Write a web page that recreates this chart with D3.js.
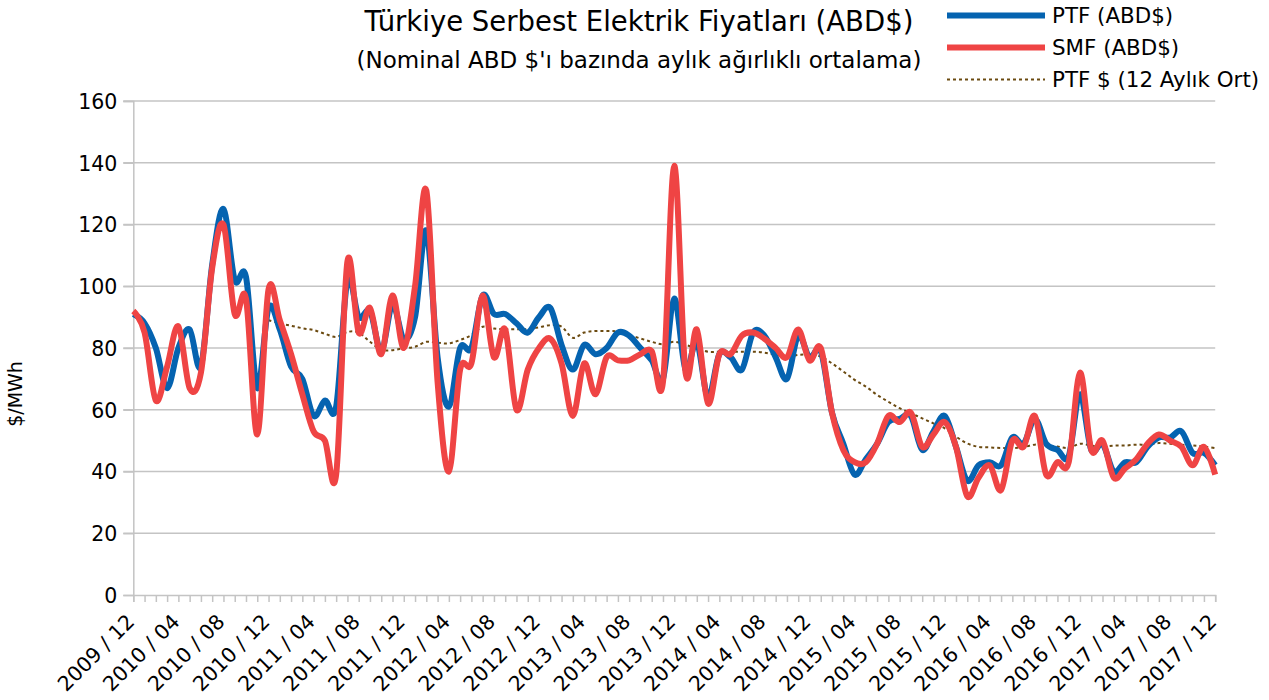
<!DOCTYPE html>
<meta charset="utf-8">
<style>
  body { margin: 0; background: white; }
  svg { font-family: "DejaVu Sans", sans-serif; }
  .grid line { stroke: #c4c4c4; stroke-width: 1.5; }
  .axis path, .axis line { stroke: #c4c4c4; stroke-width: 1.5; }
  .axis text { fill: black; font-size: 20.5px; font-family: "DejaVu Sans", sans-serif; }
</style>
<body>
</body>
<script src="https://cdn.jsdelivr.net/npm/d3@7"></script>
<script>
  // monthly values, 2009/12 .. 2017/12
  const ptf = [91, 88, 80, 67, 80, 86, 74, 107, 125, 102, 103, 67,
    93, 86, 74, 70, 58, 63, 61, 102, 90, 92, 79, 94,
    83, 90, 118, 77, 61, 80, 80, 97, 91, 91, 88, 85,
    90, 93, 81, 73, 81, 78, 80, 85, 84, 80, 76, 70,
    96, 73, 82, 64, 78, 77, 73, 85, 84, 77, 70, 84,
    77, 79, 59, 49, 39, 44, 49, 56, 57, 58, 47, 53,
    58, 48, 37, 42, 43, 42, 51, 49, 57, 49, 47, 45,
    65, 47, 49, 40, 43, 43, 48, 51, 51, 53, 46, 46, 42];
  const smf = [92, 85, 63, 74, 87, 67, 72, 106, 120, 91, 96, 52,
    99, 89, 78, 65, 53, 50, 39, 108, 85, 93, 78, 97,
    80, 100, 131, 69, 40, 73, 75, 97, 77, 86, 60, 73,
    80, 83, 75, 58, 75, 65, 77, 76, 76, 78, 79, 69,
    139, 72, 86, 62, 78, 78, 84, 85, 83, 80, 77, 86,
    76, 80, 59, 47, 43, 43, 49, 58, 56, 59, 48, 52,
    56, 48, 32, 38, 42, 34, 50, 48, 58, 39, 43, 43,
    72, 47, 50, 38, 41, 44, 49, 52, 50, 48, 42, 48, 39];
  // 12 month average of PTF, starts at 2010/12
  const ptfAvg = [null, null, null, null, null, null, null, null, null, null, null, null,
    89, 88, 87.2, 86.4, 85.8, 84.6, 83.6, 85.2, 85, 82, 79.5, 79.3,
    79.9, 80.4, 82, 81.7, 81.5, 82.6, 84.2, 86.9, 86.3, 86.1, 86.1, 86.1,
    86.7, 87.4, 86.9, 83.3, 85, 85.5, 85.5, 85.3, 84.2, 83.1, 82, 81.2,
    82, 81, 79.9, 78.8, 78.8, 78.8, 78.8, 78.8, 78.5, 77.8, 77.2, 77.8,
    77.8, 77.2, 75, 72.4, 69.7, 67.5, 64.8, 62.6, 60.5, 58.9, 57.2, 55.6,
    54, 51.3, 49.1, 48, 47.8, 47.6, 47.6, 47.9, 48.7, 48.4, 48.1, 47.6,
    49, 48.4, 48.1, 48.4, 48.4, 48.7, 48.7, 49.2, 49, 48.7, 48.4, 48.1, 47.6];
  const yTicks = [0, 20, 40, 60, 80, 100, 120, 140, 160];

  const months = [];
  for (let i = 0; i < ptf.length; i++) {
    const m = (11 + i) % 12 + 1, yr = 2009 + Math.floor((11 + i) / 12);
    months.push(`${yr} / ${String(m).padStart(2, '0')}`);
  }
  const tickLabels = months.filter((d, i) => i % 4 === 0);

  const series = [
    {name: 'PTF (ABD$)', values: ptf, color: '#0563b0', width: 6, dash: null},
    {name: 'SMF (ABD$)', values: smf, color: '#ef4444', width: 6, dash: null},
    {name: 'PTF $ (12 Aylık Ort)', values: ptfAvg, color: '#6b4a10', width: 2, dash: '3,3'},
  ];

  const W = 1269, H = 700;
  const l = 133.3, r = 1215.2, t = 101, b = 595;

  const svg = d3.select('body').append('svg')
    .attr('width', W).attr('height', H);

  const x = d3.scalePoint().domain(months).range([l, r]);
  const y = d3.scaleLinear().domain([0, 160]).range([b, t]);

  // grid
  svg.append('g').attr('class', 'grid')
    .selectAll('line').data(yTicks.slice(1)).join('line')
      .attr('x1', l - 10).attr('x2', r)
      .attr('y1', d => y(d)).attr('y2', d => y(d));

  svg.append('g').attr('class', 'axis')
    .attr('transform', `translate(${l}, 0)`)
    .call(d3.axisLeft(y).tickValues(yTicks).tickSize(10).tickPadding(6))
    .call(g => g.selectAll('text').attr('dy', '0.36em'));

  // monthly minor ticks
  svg.append('g').attr('class', 'axis')
    .attr('transform', `translate(0, ${b})`)
    .call(d3.axisBottom(x).tickSize(7).tickFormat(''));

  svg.append('g').attr('class', 'axis')
    .attr('transform', `translate(0, ${b})`)
    .call(d3.axisBottom(x).tickValues(tickLabels).tickSize(0))
    .call(g => g.select('.domain').remove())
    .call(g => g.selectAll('text')
      .attr('text-anchor', 'end')
      .attr('dy', null)
      .attr('y', 0)
      .attr('transform', 'translate(2, 28) rotate(-45)'));

  const line = vals => d3.line()
    .defined(d => d != null)
    .x((d, i) => x(months[i]))
    .y(d => y(d))
    .curve(d3.curveCardinal.tension(0))(vals);

  svg.append('g').selectAll('path').data([series[2], series[0], series[1]]).join('path')
    .attr('d', s => line(s.values))
    .attr('fill', 'none')
    .attr('stroke', s => s.color)
    .attr('stroke-width', s => s.width)
    .attr('stroke-dasharray', s => s.dash)
    .attr('stroke-linejoin', 'round');

  // titles
  svg.append('text').attr('x', 639).attr('y', 31)
    .attr('text-anchor', 'middle').style('font-size', '27.5px')
    .text('Türkiye Serbest Elektrik Fiyatları (ABD$)');
  svg.append('text').attr('x', 639).attr('y', 68)
    .attr('text-anchor', 'middle').style('font-size', '23px')
    .text("(Nominal ABD $'ı bazında aylık ağırlıklı ortalama)");

  svg.append('text')
    .attr('transform', 'translate(22, 394) rotate(-90)')
    .attr('text-anchor', 'middle').style('font-size', '19px')
    .text('$/MWh');

  // legend
  const leg = svg.append('g').selectAll('g').data(series).join('g')
    .attr('transform', (d, i) => `translate(947, ${15.5 + i * 32})`);
  leg.append('line')
    .attr('x1', 0).attr('x2', 98)
    .attr('stroke', d => d.color)
    .attr('stroke-width', d => d.width)
    .attr('stroke-dasharray', d => d.dash);
  leg.append('text')
    .attr('x', 105).attr('dy', '0.36em')
    .style('font-size', '21.4px')
    .text(d => d.name);
</script>
